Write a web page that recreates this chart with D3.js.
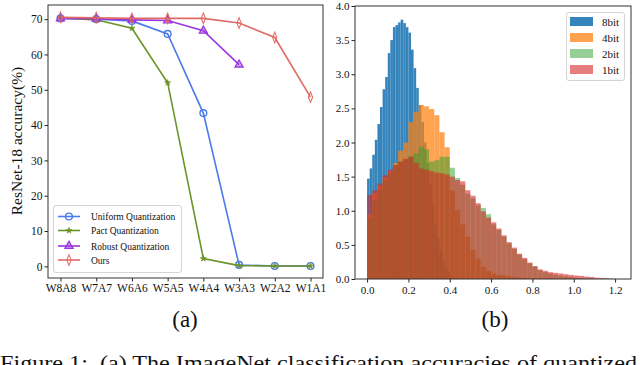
<!DOCTYPE html>
<html>
<head>
<meta charset="utf-8">
<script src="https://cdn.jsdelivr.net/npm/d3@7/dist/d3.min.js"></script>
<style>
body { margin: 0; background: #fff; }
text { font-family: "Liberation Serif", "Times New Roman", serif; fill: #111; }
</style>
</head>
<body>
<div id="fig"></div>
<script>
// (a) accuracy per quantization level
var steps = ["W8A8", "W7A7", "W6A6", "W5A5", "W4A4", "W3A3", "W2A2", "W1A1"];
var uniform = [70.2, 70.0, 69.5, 65.8, 43.4, 0.4, 0.1, 0.1];
var pact = [70.3, 69.8, 67.4, 52.0, 2.2, 0.2, 0.1, 0.1];
var robust = [70.2, 70.1, 69.8, 69.6, 66.7, 57.1];
var ours = [70.5, 70.4, 70.2, 70.2, 70.2, 68.9, 64.8, 47.9];
var accTicks = [0, 10, 20, 30, 40, 50, 60, 70];

// (b) histograms: bin width and heights (density)
var bin8 = 0.0125;
var hist8 = [1.47, 1.62, 1.82, 2.04, 2.27, 2.52, 2.78, 2.96, 3.31, 3.5, 3.69, 3.72, 3.76, 3.8, 3.75, 3.69, 3.61,
  3.36, 3.09, 2.8, 2.55, 2.3, 2.0, 1.7, 1.4, 1.1, 0.82, 0.6, 0.42, 0.28, 0.17, 0.1, 0.05, 0.02];
var bin4 = 0.025;
var hist4 = [0.94, 1.26, 1.37, 1.49, 1.57, 1.7, 1.88, 2.0, 2.3, 2.45, 2.55, 2.53, 2.49, 2.4, 2.15, 1.93,
  1.3, 1.01, 0.8, 0.62, 0.43, 0.3, 0.18, 0.12, 0.08, 0.06, 0.05, 0.04, 0.03, 0.02, 0.015, 0.01, 0.01,
  0.008, 0.006, 0.005, 0.004, 0.003, 0.002, 0.002, 0.001, 0.001, 0.001, 0.001, 0.001, 0.001, 0.001];
var bin2 = 0.025;
var hist2 = [0.9, 1.15, 1.3, 1.45, 1.55, 1.65, 1.72, 1.75, 1.8, 1.84, 1.94, 1.9, 1.72, 1.74, 1.79, 1.79,
  1.63, 1.48, 1.38, 1.25, 1.18, 1.08, 1.04, 0.95, 0.8, 0.72, 0.62, 0.52, 0.44, 0.36, 0.29, 0.23, 0.18,
  0.13, 0.1, 0.08, 0.06, 0.05, 0.04, 0.03, 0.02, 0.015, 0.01, 0.005];
var bin1 = 0.025;
var hist1 = [1.23, 1.3, 1.4, 1.52, 1.6, 1.67, 1.72, 1.76, 1.79, 1.7, 1.62, 1.6, 1.58, 1.56, 1.55, 1.53,
  1.5, 1.45, 1.43, 1.3, 1.22, 1.11, 0.99, 0.9, 0.83, 0.74, 0.64, 0.54, 0.46, 0.37, 0.31, 0.24, 0.19,
  0.14, 0.12, 0.1, 0.09, 0.08, 0.07, 0.06, 0.05, 0.045, 0.035, 0.03, 0.02, 0.015, 0.01, 0.005];
var densTicks = [0, 0.5, 1, 1.5, 2, 2.5, 3, 3.5, 4];
var valTicks = [0, 0.2, 0.4, 0.6, 0.8, 1.0, 1.2];

var svg = d3.select("#fig").append("svg")
    .attr("width", 640)
    .attr("height", 365);
svg.append("rect").attr("width", 640).attr("height", 365).attr("fill", "#fff");

// ---------- chart (a) ----------
var xA = d3.scaleLinear().domain([-0.35, 7.35]).range([48, 323]);
var yA = d3.scaleLinear().domain([-3.3, 74]).range([278, 5]);

var gA = svg.append("g");

var axA_y = gA.append("g")
    .attr("transform", "translate(48,0)")
    .call(d3.axisLeft(yA).tickValues(accTicks).tickSize(3.5).tickPadding(2).tickFormat(d3.format("d")));
var axA_x = gA.append("g")
    .attr("transform", "translate(0,278)")
    .call(d3.axisBottom(xA).tickValues(d3.range(steps.length)).tickSize(3.5).tickPadding(2)
        .tickFormat(function(i) { return steps[i]; }));
[axA_y, axA_x].forEach(function(a) {
    a.select(".domain").remove();
    a.selectAll("text").style("font-size", "11.5px").attr("fill", "#111");
    a.selectAll("line").attr("stroke", "#222");
});

var seriesA = [
    {name: "Uniform Quantization", values: uniform, color: "#4a7bea", symbol: d3.symbolCircle, fill: "none", size: 36, sw: 1.4},
    {name: "Pact Quantization", values: pact, color: "#6b9328", symbol: d3.symbolStar, fill: "#6b9328", size: 12, sw: 0.6},
    {name: "Robust Quantization", values: robust, color: "#9b35dd", symbol: d3.symbolTriangle, fill: "rgba(155,53,221,0.45)", size: 28, sw: 1.3},
    {name: "Ours", values: ours, color: "#e06a66", symbol: d3.symbolDiamond, fill: "none", size: 32, sw: 1.4}
];

var line = d3.line()
    .x(function(d, i) { return xA(i); })
    .y(function(d) { return yA(d); });

seriesA.forEach(function(s) {
    gA.append("path")
        .datum(s.values)
        .attr("fill", "none")
        .attr("stroke", s.color)
        .attr("stroke-width", 1.6)
        .attr("d", line);
    gA.selectAll(null)
        .data(s.values)
        .enter().append("path")
        .attr("transform", function(d, i) {
            var t = "translate(" + xA(i) + "," + yA(d) + ")";
            return s.symbol === d3.symbolDiamond ? t + " scale(0.7,1)" : t;
        })
        .attr("d", d3.symbol().type(s.symbol).size(s.size))
        .attr("fill", s.fill)
        .attr("stroke", s.color)
        .attr("stroke-width", s.sw);
});

gA.append("rect")
    .attr("x", 48).attr("y", 5).attr("width", 275).attr("height", 273)
    .attr("fill", "none").attr("stroke", "#333").attr("stroke-width", 1);

// legend (a)
var legA = gA.append("g");
legA.append("rect")
    .attr("x", 53.5).attr("y", 205.5).attr("width", 128).attr("height", 67)
    .attr("rx", 2.5).attr("fill", "rgba(255,255,255,0.85)").attr("stroke", "#d4d4d4");
var legRowsA = [216.5, 230.5, 246, 260];
seriesA.forEach(function(s, i) {
    var yy = legRowsA[i];
    legA.append("line").attr("x1", 58).attr("x2", 80).attr("y1", yy).attr("y2", yy)
        .attr("stroke", s.color).attr("stroke-width", 1.6);
    legA.append("path")
        .attr("transform", "translate(69," + yy + ")" + (s.symbol === d3.symbolDiamond ? " scale(0.7,1)" : ""))
        .attr("d", d3.symbol().type(s.symbol).size(s.size))
        .attr("fill", s.fill).attr("stroke", s.color).attr("stroke-width", s.sw);
    legA.append("text").attr("x", 91).attr("y", yy + 3.5)
        .style("font-size", "9.5px").text(s.name);
});

gA.append("text")
    .attr("transform", "translate(22,141) rotate(-90)")
    .attr("text-anchor", "middle")
    .style("font-size", "15.5px")
    .text("ResNet-18 accuracy(%)");

// ---------- chart (b) ----------
var xB = d3.scaleLinear().domain([-0.0585, 1.277]).range([355, 631]);
var yB = d3.scaleLinear().domain([0, 4]).range([279, 6]);
var gB = svg.append("g");

var hists = [
    {name: "8bit", bins: hist8, w: bin8, color: "#1f77b4", alpha: 0.9},
    {name: "4bit", bins: hist4, w: bin4, color: "#ff7f0e", alpha: 0.72},
    {name: "2bit", bins: hist2, w: bin2, color: "#2ca02c", alpha: 0.5},
    {name: "1bit", bins: hist1, w: bin1, color: "#d62728", alpha: 0.6}
];

hists.forEach(function(h) {
    gB.append("g").selectAll("rect")
        .data(h.bins)
        .enter().append("rect")
        .attr("x", function(d, i) { return xB(i * h.w); })
        .attr("width", function(d, i) { return xB((i + 1) * h.w) - xB(i * h.w); })
        .attr("y", function(d) { return yB(d); })
        .attr("height", function(d) { return yB(0) - yB(d); })
        .attr("fill", h.color)
        .attr("fill-opacity", h.alpha);
});

var axB_y = gB.append("g")
    .attr("transform", "translate(355,0)")
    .call(d3.axisLeft(yB).tickValues(densTicks).tickSize(3.5).tickPadding(2).tickFormat(d3.format(".1f")));
var axB_x = gB.append("g")
    .attr("transform", "translate(0,279)")
    .call(d3.axisBottom(xB).tickValues(valTicks).tickSize(3.5).tickPadding(4).tickFormat(d3.format(".1f")));
[axB_y, axB_x].forEach(function(a) {
    a.select(".domain").remove();
    a.selectAll("text").style("font-size", "11px").attr("fill", "#111");
    a.selectAll("line").attr("stroke", "#222");
});

gB.append("rect")
    .attr("x", 355).attr("y", 6).attr("width", 276).attr("height", 273)
    .attr("fill", "none").attr("stroke", "#333").attr("stroke-width", 1);

// legend (b)
var legB = gB.append("g");
legB.append("rect")
    .attr("x", 566.5).attr("y", 12.5).attr("width", 58).attr("height", 68)
    .attr("rx", 2.5).attr("fill", "rgba(255,255,255,0.85)").attr("stroke", "#d4d4d4");
hists.forEach(function(h, i) {
    var yy = 21.5 + i * 16;
    legB.append("rect").attr("x", 570).attr("y", yy - 4.5).attr("width", 23).attr("height", 9)
        .attr("fill", h.color).attr("fill-opacity", h.alpha);
    legB.append("text").attr("x", 602).attr("y", yy + 4)
        .style("font-size", "11px").text(h.name);
});

// panel labels and caption
svg.append("text").attr("x", 185).attr("y", 327).attr("text-anchor", "middle")
    .style("font-size", "23px").text("(a)");
svg.append("text").attr("x", 495).attr("y", 327).attr("text-anchor", "middle")
    .style("font-size", "23px").text("(b)");
svg.append("text").attr("x", 0).attr("y", 370)
    .attr("textLength", 637).attr("lengthAdjust", "spacingAndGlyphs")
    .style("font-size", "21px").style("white-space", "pre")
    .text("Figure 1:  (a) The ImageNet classification accuracies of quantized");
</script>
</body>
</html>
